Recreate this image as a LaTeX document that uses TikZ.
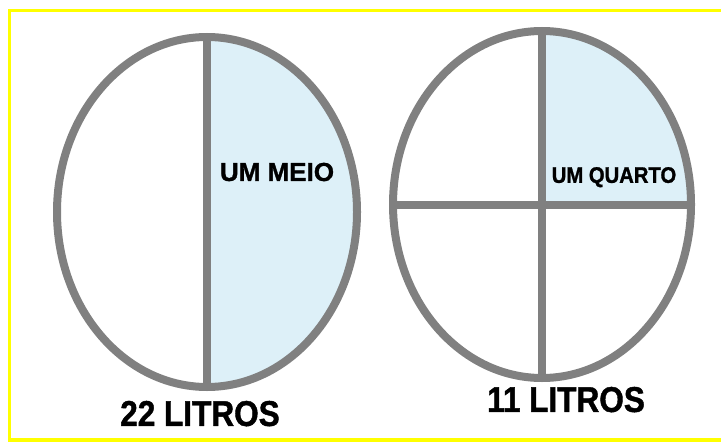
\documentclass[tikz,border=0pt]{standalone}
\usepackage{fontspec}
\setmainfont{Liberation Sans}
\newfontfamily\grubasans[FakeBold=1.2]{Liberation Sans Bold}
\newfontfamily\narrowsans[FakeStretch=0.88, FakeBold=1.2]{Liberation Sans Bold}
\newfontfamily\quartosans[FakeStretch=0.9, FakeBold=1.2]{Liberation Sans Bold}
\usepackage{tikz}
\usetikzlibrary{positioning}
\definecolor{obrys}{RGB}{128,128,128}
\definecolor{wypelnienie}{RGB}{221,240,248}
\definecolor{ramka}{RGB}{255,255,0}

\begin{document}
\begin{tikzpicture}[
		kontur/.style={draw=obrys, line width=0.2cm},
		czesc/.style={fill=wypelnienie},
		napis/.style={inner sep=0pt}
	]

		\useasboundingbox (0,0) rectangle (18.025,11.05);

		% Ramka
		\draw[ramka, line width=0.09cm] (18.025,10.7875) -- (0.2375,10.7875) -- (0.2375,0.05) -- (18.025,0.05);

		% Srodki naczyn
		\coordinate (lewy) at (5.175,5.75);
		\coordinate (prawy) at (13.55,5.9375);

		% Naczynie 22 litry
		\fill[czesc] (5.175,10.125) arc[start angle=90, end angle=-90, x radius=3.75, y radius=4.375] -- cycle;
		\draw[kontur] (5.175,10.125) -- (5.175,1.375);
		\draw[kontur] (lewy) ellipse [x radius=3.75, y radius=4.375];

		% Naczynie 11 litrow
		\fill[czesc] (prawy) -- (13.55,10.275) arc[start angle=90, end angle=0, x radius=3.725, y radius=4.3375] -- cycle;
		\draw[kontur] (13.55,10.275) -- (13.55,1.6);
		\draw[kontur] (9.825,5.9375) -- (17.275,5.9375);
		\draw[kontur] (prawy) ellipse [x radius=3.725, y radius=4.3375];

		% Opisy
		\node[napis, font=\fontsize{18.5}{20}\grubasans] (meio) at (6.925,6.75) {UM MEIO};
		\node[napis, font=\fontsize{16}{18}\quartosans] (quarto) at (15.35,6.62) {UM QUARTO};
		\node[napis, font=\fontsize{25.5}{28}\narrowsans] (litros22) at (5.0,0.71) {22 LITROS};
		\node[napis, font=\fontsize{25.5}{28}\narrowsans] (litros11) at (14.15,1.06) {11 LITROS};

	\end{tikzpicture}
\end{document}
